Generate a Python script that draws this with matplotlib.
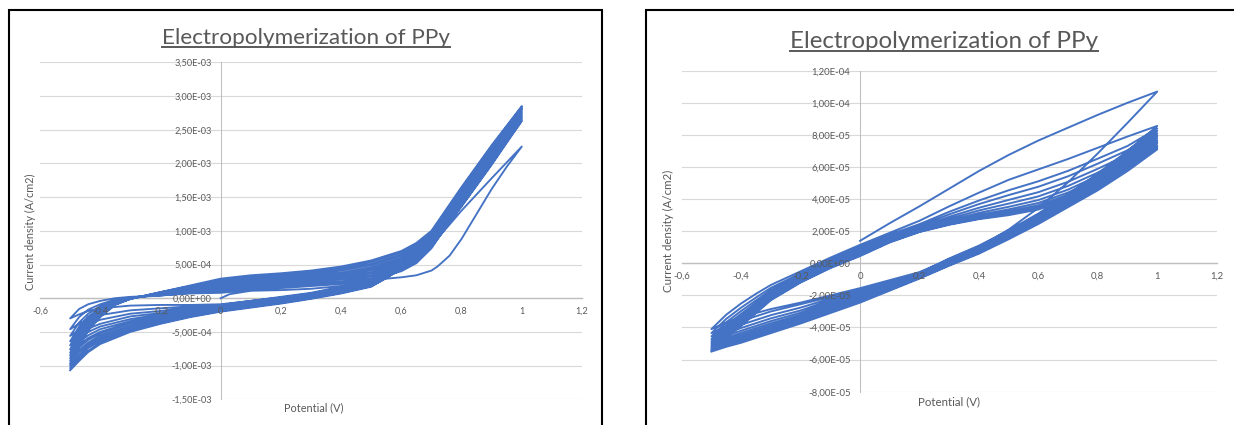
import numpy as np
import matplotlib
matplotlib.use("Agg")
import matplotlib.pyplot as plt
from matplotlib.ticker import FixedLocator, FuncFormatter
from matplotlib.lines import Line2D
from matplotlib.patches import Rectangle

plt.rcParams['font.family'] = ['Lato', 'DejaVu Sans']

TITLE = "Electropolymerization of PPy"
XLABEL = "Potential (V)"
YLABEL = "Current density (A/cm2)"

X_TICKS = [-0.6, -0.4, -0.2, 0.0, 0.2, 0.4, 0.6, 0.8, 1.0, 1.2]
L_Y_TICKS = [-1.5e-3, -1.0e-3, -5e-4, 0.0, 5e-4, 1.0e-3, 1.5e-3, 2.0e-3, 2.5e-3, 3.0e-3, 3.5e-3]
R_Y_TICKS = [-8e-5, -6e-5, -4e-5, -2e-5, 0.0, 2e-5, 4e-5, 6e-5, 8e-5, 1.0e-4, 1.2e-4]

# ---------------- left chart (current in mA/cm2, i.e. x1e-3 A/cm2) ----------------
L_FIRST_E = [0.0, 0.03, 0.1, 0.2, 0.3, 0.4, 0.5, 0.55, 0.6, 0.65, 0.7, 0.72, 0.76, 0.8, 0.85, 0.9, 0.95, 1.0]
L_FIRST_J = [0.0, 0.06, 0.11, 0.12, 0.14, 0.18, 0.25, 0.29, 0.31, 0.34, 0.41, 0.47, 0.63, 0.88, 1.25, 1.62, 1.95, 2.25]

L_ANODIC_E = [-0.5, -0.47, -0.44, -0.4, -0.35, -0.3, -0.2, -0.1, 0.0, 0.1,
              0.2, 0.3, 0.4, 0.5, 0.6, 0.65, 0.7, 0.8, 0.9, 1.0]
L_ANODIC_J = [
    [-0.30, -0.16, -0.09, -0.04, 0.00, 0.02, 0.04, 0.07, 0.08, 0.12, 0.15, 0.18, 0.21, 0.27, 0.40, 0.52, 0.74, 1.40, 2.02, 2.63],
    [-0.46, -0.28, -0.17, -0.09, -0.02, 0.01, 0.04, 0.08, 0.10, 0.14, 0.17, 0.20, 0.23, 0.29, 0.43, 0.55, 0.76, 1.42, 2.04, 2.65],
    [-0.56, -0.36, -0.23, -0.12, -0.04, 0.01, 0.05, 0.09, 0.12, 0.16, 0.19, 0.22, 0.25, 0.32, 0.45, 0.57, 0.78, 1.44, 2.06, 2.67],
    [-0.64, -0.42, -0.27, -0.15, -0.05, 0.01, 0.05, 0.10, 0.13, 0.18, 0.21, 0.24, 0.28, 0.34, 0.48, 0.60, 0.81, 1.46, 2.08, 2.69],
    [-0.70, -0.46, -0.30, -0.17, -0.05, 0.00, 0.06, 0.11, 0.15, 0.19, 0.22, 0.26, 0.30, 0.37, 0.50, 0.62, 0.83, 1.48, 2.10, 2.71],
    [-0.76, -0.51, -0.33, -0.19, -0.06, 0.00, 0.06, 0.12, 0.17, 0.21, 0.24, 0.28, 0.32, 0.39, 0.53, 0.65, 0.85, 1.50, 2.12, 2.73],
    [-0.81, -0.55, -0.36, -0.21, -0.07, 0.00, 0.06, 0.13, 0.19, 0.23, 0.26, 0.30, 0.34, 0.42, 0.55, 0.67, 0.87, 1.53, 2.15, 2.75],
    [-0.85, -0.58, -0.38, -0.22, -0.07, 0.00, 0.07, 0.14, 0.20, 0.25, 0.28, 0.31, 0.36, 0.44, 0.58, 0.70, 0.89, 1.55, 2.17, 2.77],
    [-0.89, -0.61, -0.40, -0.23, -0.08, 0.00, 0.07, 0.15, 0.22, 0.27, 0.30, 0.33, 0.38, 0.46, 0.60, 0.72, 0.91, 1.57, 2.19, 2.79],
    [-0.93, -0.64, -0.42, -0.24, -0.09, -0.01, 0.08, 0.16, 0.24, 0.29, 0.32, 0.35, 0.41, 0.49, 0.63, 0.75, 0.94, 1.59, 2.21, 2.81],
    [-0.97, -0.67, -0.44, -0.26, -0.09, -0.01, 0.08, 0.17, 0.26, 0.30, 0.33, 0.37, 0.43, 0.51, 0.65, 0.77, 0.96, 1.61, 2.23, 2.82],
    [-1.00, -0.69, -0.46, -0.27, -0.09, -0.01, 0.09, 0.18, 0.27, 0.32, 0.35, 0.39, 0.45, 0.54, 0.68, 0.80, 0.98, 1.63, 2.25, 2.84],
    [-1.04, -0.72, -0.48, -0.28, -0.10, -0.01, 0.09, 0.19, 0.29, 0.34, 0.37, 0.41, 0.47, 0.56, 0.70, 0.82, 1.00, 1.65, 2.27, 2.85],
]

L_CATHODIC_E = [1.0, 0.9, 0.8, 0.7, 0.65, 0.6, 0.55, 0.5, 0.4, 0.3,
                0.2, 0.1, 0.0, -0.1, -0.2, -0.3, -0.4, -0.44, -0.47, -0.5]
L_CATHODIC_J = [
    [2.25, 1.78, 1.30, 0.78, 0.57, 0.42, 0.32, 0.27, 0.17, 0.08, 0.02, -0.04, -0.09, -0.10, -0.10, -0.11, -0.15, -0.19, -0.24, -0.30],
    [2.63, 1.98, 1.36, 0.76, 0.56, 0.42, 0.32, 0.26, 0.16, 0.07, 0.01, -0.04, -0.10, -0.12, -0.15, -0.18, -0.25, -0.31, -0.38, -0.46],
    [2.65, 1.99, 1.37, 0.77, 0.56, 0.42, 0.32, 0.25, 0.15, 0.06, 0.00, -0.05, -0.11, -0.13, -0.19, -0.23, -0.32, -0.39, -0.47, -0.56],
    [2.67, 2.01, 1.38, 0.78, 0.57, 0.42, 0.32, 0.25, 0.15, 0.06, 0.00, -0.06, -0.12, -0.15, -0.22, -0.27, -0.38, -0.45, -0.54, -0.64],
    [2.69, 2.02, 1.39, 0.78, 0.57, 0.43, 0.32, 0.24, 0.14, 0.05, -0.01, -0.06, -0.12, -0.16, -0.24, -0.31, -0.42, -0.50, -0.60, -0.70],
    [2.71, 2.04, 1.40, 0.79, 0.58, 0.43, 0.31, 0.23, 0.13, 0.04, -0.02, -0.07, -0.13, -0.17, -0.26, -0.34, -0.46, -0.55, -0.65, -0.76],
    [2.73, 2.05, 1.41, 0.80, 0.58, 0.43, 0.31, 0.22, 0.12, 0.04, -0.03, -0.08, -0.14, -0.19, -0.28, -0.36, -0.50, -0.59, -0.70, -0.81],
    [2.75, 2.07, 1.42, 0.81, 0.59, 0.43, 0.31, 0.22, 0.12, 0.03, -0.04, -0.09, -0.15, -0.20, -0.30, -0.38, -0.52, -0.62, -0.73, -0.85],
    [2.77, 2.08, 1.43, 0.81, 0.59, 0.44, 0.31, 0.21, 0.11, 0.02, -0.04, -0.10, -0.16, -0.21, -0.31, -0.41, -0.55, -0.66, -0.77, -0.89],
    [2.79, 2.09, 1.44, 0.82, 0.60, 0.44, 0.31, 0.20, 0.10, 0.02, -0.05, -0.11, -0.17, -0.23, -0.33, -0.43, -0.58, -0.69, -0.80, -0.93],
    [2.81, 2.11, 1.45, 0.83, 0.60, 0.44, 0.30, 0.19, 0.09, 0.01, -0.06, -0.12, -0.18, -0.24, -0.34, -0.45, -0.61, -0.72, -0.84, -0.97],
    [2.82, 2.12, 1.46, 0.84, 0.61, 0.45, 0.30, 0.18, 0.08, 0.00, -0.07, -0.12, -0.18, -0.25, -0.35, -0.46, -0.63, -0.74, -0.87, -1.00],
    [2.84, 2.14, 1.47, 0.84, 0.61, 0.45, 0.30, 0.18, 0.08, 0.00, -0.07, -0.13, -0.19, -0.27, -0.37, -0.48, -0.66, -0.78, -0.90, -1.04],
    [2.85, 2.15, 1.48, 0.85, 0.62, 0.45, 0.30, 0.17, 0.07, -0.01, -0.08, -0.14, -0.20, -0.28, -0.38, -0.50, -0.68, -0.80, -0.93, -1.07],
]

# ---------------- right chart (current in x1e-5 A/cm2) ----------------
R_FIRST_E = [0.0, 0.1, 0.2, 0.3, 0.4, 0.5, 0.6, 0.7, 0.8, 0.9, 1.0]
R_FIRST_J = [1.40, 2.50, 3.55, 4.65, 5.75, 6.75, 7.65, 8.45, 9.25, 10.00, 10.70]

R_ANODIC_E = [-0.5, -0.45, -0.4, -0.35, -0.3, -0.2, -0.1, 0.0, 0.1,
              0.2, 0.3, 0.4, 0.5, 0.6, 0.7, 0.8, 0.9, 1.0]
R_ANODIC_J = [
    [-4.10, -3.20, -2.50, -1.90, -1.35, -0.50, 0.35, 1.15, 1.90, 2.65, 3.55, 4.40, 5.20, 5.85, 6.50, 7.20, 7.90, 8.56],
    [-4.35, -3.46, -2.76, -2.13, -1.53, -0.63, 0.23, 1.02, 1.79, 2.44, 3.21, 3.91, 4.55, 5.11, 5.76, 6.52, 7.31, 8.40],
    [-4.55, -3.67, -2.97, -2.31, -1.67, -0.74, 0.13, 0.91, 1.70, 2.35, 3.05, 3.69, 4.25, 4.77, 5.42, 6.21, 7.04, 8.25],
    [-4.72, -3.85, -3.15, -2.46, -1.79, -0.83, 0.05, 0.82, 1.62, 2.25, 2.90, 3.46, 3.95, 4.43, 5.08, 5.89, 6.76, 8.10],
    [-4.86, -4.00, -3.30, -2.59, -1.89, -0.90, -0.02, 0.75, 1.56, 2.18, 2.78, 3.29, 3.72, 4.17, 4.82, 5.65, 6.55, 7.95],
    [-4.98, -4.13, -3.43, -2.69, -1.98, -0.96, -0.08, 0.69, 1.50, 2.12, 2.67, 3.14, 3.52, 3.94, 4.59, 5.44, 6.37, 7.80],
    [-5.09, -4.24, -3.54, -2.79, -2.06, -1.02, -0.13, 0.63, 1.45, 2.06, 2.59, 3.02, 3.36, 3.76, 4.41, 5.28, 6.23, 7.65],
    [-5.19, -4.35, -3.65, -2.88, -2.13, -1.07, -0.18, 0.58, 1.41, 2.03, 2.53, 2.93, 3.24, 3.62, 4.27, 5.15, 6.12, 7.50],
    [-5.28, -4.44, -3.74, -2.96, -2.19, -1.12, -0.23, 0.53, 1.37, 1.99, 2.47, 2.86, 3.14, 3.51, 4.16, 5.05, 6.03, 7.35],
    [-5.36, -4.53, -3.83, -3.04, -2.25, -1.16, -0.27, 0.49, 1.33, 1.97, 2.43, 2.79, 3.06, 3.42, 4.07, 4.96, 5.95, 7.22],
    [-5.43, -4.60, -3.90, -3.10, -2.30, -1.20, -0.30, 0.45, 1.30, 1.95, 2.40, 2.75, 3.00, 3.35, 4.00, 4.90, 5.90, 7.10],
]

R_CATHODIC_E = [1.0, 0.9, 0.8, 0.7, 0.6, 0.5, 0.4, 0.3, 0.2, 0.1, 0.0,
                -0.1, -0.2, -0.3, -0.4, -0.45, -0.5]
R_CATHODIC_J = [
    [10.70, 8.75, 6.85, 5.05, 3.45, 2.10, 1.00, 0.25, -0.55, -1.05, -1.55, -2.00, -2.45, -2.85, -3.35, -3.70, -4.10],
    [8.56, 7.00, 5.60, 4.30, 3.10, 2.05, 1.10, 0.30, -0.60, -1.15, -1.65, -2.10, -2.55, -3.00, -3.60, -3.95, -4.35],
    [8.40, 6.88, 5.50, 4.22, 3.04, 2.00, 1.05, 0.26, -0.64, -1.21, -1.73, -2.20, -2.76, -3.23, -3.83, -4.17, -4.55],
    [8.25, 6.75, 5.39, 4.14, 2.97, 1.94, 1.00, 0.21, -0.67, -1.26, -1.81, -2.30, -2.94, -3.43, -4.03, -4.35, -4.72],
    [8.10, 6.63, 5.29, 4.06, 2.91, 1.89, 0.95, 0.17, -0.71, -1.32, -1.89, -2.40, -3.08, -3.60, -4.20, -4.50, -4.86],
    [7.95, 6.50, 5.18, 3.98, 2.84, 1.83, 0.90, 0.12, -0.74, -1.37, -1.97, -2.50, -3.21, -3.74, -4.34, -4.64, -4.98],
    [7.80, 6.38, 5.08, 3.90, 2.78, 1.78, 0.85, 0.08, -0.78, -1.43, -2.05, -2.60, -3.32, -3.87, -4.47, -4.75, -5.09],
    [7.65, 6.25, 4.97, 3.82, 2.71, 1.72, 0.80, 0.03, -0.81, -1.48, -2.13, -2.70, -3.43, -3.99, -4.59, -4.86, -5.19],
    [7.50, 6.13, 4.87, 3.74, 2.65, 1.67, 0.75, -0.02, -0.85, -1.54, -2.21, -2.80, -3.52, -4.09, -4.69, -4.96, -5.28],
    [7.35, 6.00, 4.76, 3.66, 2.58, 1.61, 0.70, -0.06, -0.88, -1.59, -2.29, -2.90, -3.60, -4.19, -4.79, -5.05, -5.36],
    [7.22, 5.88, 4.66, 3.58, 2.52, 1.56, 0.65, -0.11, -0.92, -1.65, -2.37, -3.00, -3.68, -4.27, -4.87, -5.12, -5.43],
    [7.10, 5.75, 4.55, 3.50, 2.45, 1.50, 0.60, -0.15, -0.95, -1.70, -2.45, -3.10, -3.75, -4.35, -4.95, -5.20, -5.50],
]

LINE_COLOR = "#4472C4"
TEXT_GRAY = "#595959"
W, H = 1234, 425


def build_path(first_e, first_j, an_e, an_j, ca_e, ca_j, unit):
    xs = list(first_e)
    ys = list(first_j)
    for i, cj in enumerate(ca_j):
        xs += ca_e
        ys += cj
        if i < len(an_j):
            xs += an_e
            ys += an_j[i]
    return np.array(xs), np.array(ys) * unit


def setup_axes(ax, yticks, fs, xpad, ypad):
    ax.set_xlim(-0.6, 1.2)
    ax.set_ylim(yticks[0], yticks[-1])
    ax.patch.set_visible(False)
    for s in ("top", "right"):
        ax.spines[s].set_visible(False)
    ax.spines["left"].set_position(("data", 0))
    ax.spines["bottom"].set_position(("data", 0))
    ax.spines["left"].set_color("#BFBFBF")
    ax.spines["left"].set_linewidth(0.75)
    ax.spines["bottom"].set_color("#BFBFBF")
    ax.spines["bottom"].set_linewidth(1.0)
    ax.spines["left"].set_zorder(1)
    ax.spines["bottom"].set_zorder(1)
    ax.xaxis.set_major_locator(FixedLocator(X_TICKS))
    ax.yaxis.set_major_locator(FixedLocator(yticks))
    ax.xaxis.set_major_formatter(FuncFormatter(lambda v, p: f"{v:g}".replace(".", ",")))
    ax.yaxis.set_major_formatter(FuncFormatter(lambda v, p: f"{v:.2E}".replace(".", ",")))
    ax.tick_params(length=0, labelsize=fs, labelcolor=TEXT_GRAY)
    ax.tick_params(axis="x", pad=xpad)
    ax.tick_params(axis="y", pad=ypad)
    for t in yticks:
        ax.axhline(t, color="#D9D9D9", lw=0.8, zorder=0.5)
    ax.set_axisbelow(False)


fig = plt.figure(figsize=(W / 100, H / 100), dpi=100)

# panel borders
fig.add_artist(Rectangle((9 / W, -0.1), (602 - 9) / W, 1.1 - 10 / H,
                         transform=fig.transFigure, fill=False, ec="black", lw=1.5))
fig.add_artist(Rectangle((646 / W, -0.1), 0.6, 1.1 - 10 / H,
                         transform=fig.transFigure, fill=False, ec="black", lw=1.5))

# left axes
axL = fig.add_axes([40 / W, (H - 399.3) / H, 542 / W, 337 / H])
setup_axes(axL, L_Y_TICKS, 6.6, 6.0, 6.5)
xl, yl = build_path(L_FIRST_E, L_FIRST_J, L_ANODIC_E, L_ANODIC_J, L_CATHODIC_E, L_CATHODIC_J, 1e-3)
axL.plot(xl, yl, color=LINE_COLOR, lw=1.35, solid_joinstyle="round", zorder=2)

# right axes
axR = fig.add_axes([681.7 / W, (H - 391.7) / H, 535 / W, 321 / H])
setup_axes(axR, R_Y_TICKS, 6.9, 6.3, 6.8)
xr, yr = build_path(R_FIRST_E, R_FIRST_J, R_ANODIC_E, R_ANODIC_J, R_CATHODIC_E, R_CATHODIC_J, 1e-5)
axR.plot(xr, yr, color=LINE_COLOR, lw=1.4, solid_joinstyle="round", zorder=2)

# axis titles
fig.text(30 / W, 1 - 232 / H, YLABEL, rotation=90, ha="center", va="center",
         fontsize=7.8, color=TEXT_GRAY)
fig.text(314 / W, 1 - 408 / H, XLABEL, ha="center", va="center", fontsize=7.8, color=TEXT_GRAY)
fig.text(668 / W, 1 - 231 / H, YLABEL, rotation=90, ha="center", va="center",
         fontsize=8.3, color=TEXT_GRAY)
fig.text(949 / W, 1 - 402 / H, XLABEL, ha="center", va="center", fontsize=8.3, color=TEXT_GRAY)

# titles (fitted to reference width) with underline
titles = [
    (306.0, 44.3, 288.0),
    (943.5, 48.5, 310.0),
]
renderer = fig.canvas.get_renderer()
for cx, base_y, target_w in titles:
    t = fig.text(cx / W, 1 - base_y / H, TITLE, ha="center", va="baseline",
                 fontsize=14, color=TEXT_GRAY)
    w = t.get_window_extent(renderer).width
    t.set_fontsize(14 * target_w / w)
    bb = t.get_window_extent(renderer)
    uy = (H - base_y - 2.6) / H
    fig.add_artist(Line2D([bb.x0 / W, bb.x1 / W], [uy, uy], transform=fig.transFigure,
                          color=TEXT_GRAY, lw=1.4))

fig.savefig("out.png", dpi=100)
